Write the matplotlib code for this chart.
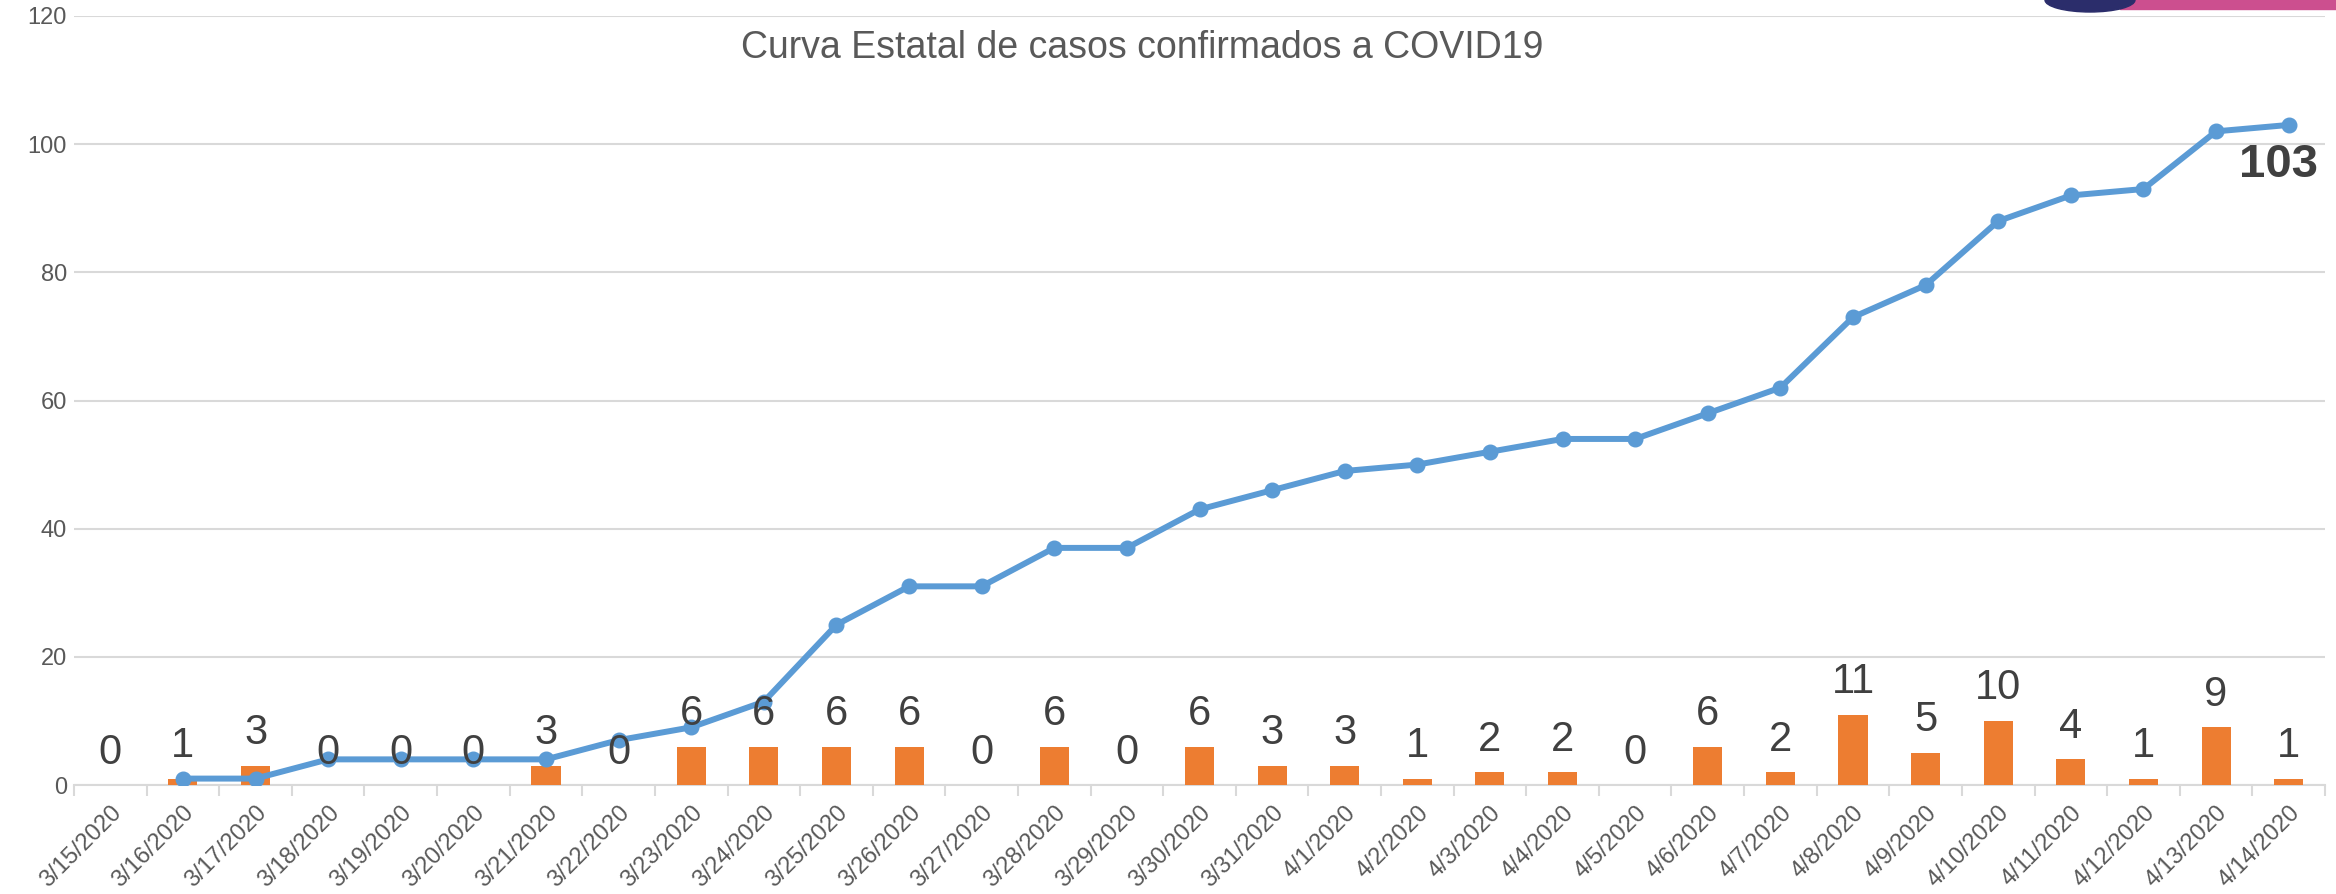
import matplotlib
matplotlib.use("Agg")
import matplotlib.pyplot as plt
from matplotlib.patches import Ellipse, Rectangle

# data
fechas = ["3/15/2020", "3/16/2020", "3/17/2020", "3/18/2020", "3/19/2020", "3/20/2020",
          "3/21/2020", "3/22/2020", "3/23/2020", "3/24/2020", "3/25/2020", "3/26/2020",
          "3/27/2020", "3/28/2020", "3/29/2020", "3/30/2020", "3/31/2020", "4/1/2020",
          "4/2/2020", "4/3/2020", "4/4/2020", "4/5/2020", "4/6/2020", "4/7/2020",
          "4/8/2020", "4/9/2020", "4/10/2020", "4/11/2020", "4/12/2020", "4/13/2020",
          "4/14/2020"]
casos_diarios = [0, 1, 3, 0, 0, 0, 3, 0, 6, 6, 6, 6, 0, 6, 0, 6, 3, 3, 1, 2, 2, 0, 6, 2,
                 11, 5, 10, 4, 1, 9, 1]
# acumulado, empieza el 3/16
acumulado = [1, 1, 4, 4, 4, 4, 7, 9, 13, 25, 31, 31, 37, 37, 43, 46, 49, 50, 52, 54, 54,
             58, 62, 73, 78, 88, 92, 93, 102, 103]
y_ticks = [0, 20, 40, 60, 80, 100, 120]

naranja = "#ED7D31"
azul = "#5B9BD5"
gris_txt = "#595959"
gris_grid = "#D9D9D9"

plt.rcParams['font.family'] = ['Liberation Sans', 'DejaVu Sans']

fig = plt.figure(figsize=(23.36, 8.94), dpi=100)
ax = fig.add_axes([74 / 2336, 109 / 894, (2325 - 74) / 2336, (785 - 16) / 894])

x = list(range(len(fechas)))
ax.bar(x, casos_diarios, width=0.4, color=naranja, zorder=2)
x_linea = x[1:]
ax.plot(x_linea, acumulado, color=azul, lw=4.3, marker='o', ms=10.5, zorder=3)

for i, v in enumerate(casos_diarios):
    ax.annotate(str(v), (i, v), xytext=(0, 9), textcoords='offset points',
                ha='center', va='bottom', fontsize=30, color="#404040", zorder=4)

ax.annotate(str(acumulado[-1]), (x_linea[-1], acumulado[-1]), xytext=(-7, -13),
            textcoords='offset points', ha='center', va='top', fontsize=34,
            fontweight='bold', color="#404040", zorder=4)

ax.set_xlim(-0.5, len(fechas) - 0.5)
ax.set_ylim(0, 120)
ax.set_yticks(y_ticks)
ax.set_yticklabels([str(t) for t in y_ticks], fontsize=17, color=gris_txt)
ax.set_xticks(x)
ax.set_xticklabels(fechas, rotation=45, ha='right', rotation_mode='anchor',
                   fontsize=17, color=gris_txt)
ax.tick_params(axis='x', which='major', length=0, pad=12)
ax.set_xticks([i - 0.5 for i in range(len(fechas) + 1)], minor=True)
ax.tick_params(axis='x', which='minor', length=8, color=gris_grid, width=1.5)
ax.tick_params(axis='y', length=0, pad=5)

ax.grid(axis='y', color=gris_grid, lw=1.5, zorder=0)
ax.set_axisbelow(True)
for s in ['top', 'right', 'left']:
    ax.spines[s].set_visible(False)
ax.spines['bottom'].set_color(gris_grid)
ax.spines['bottom'].set_linewidth(1.5)
ax.spines['bottom'].set_zorder(1)

fig.text(0.489, 1 - 48 / 894, "Curva Estatal de casos confirmados a COVID19",
         ha='center', va='center', fontsize=27, color=gris_txt)

# logo recortado arriba a la derecha
fig.patches.append(Rectangle((2120 / 2336, 1 - 9 / 894), 216 / 2336, 9 / 894,
                             transform=fig.transFigure, color="#CC4F8F", zorder=0))
fig.patches.append(Ellipse((2090 / 2336, 1 - 0 / 894), 90 / 2336, 24 / 894,
                           transform=fig.transFigure, color="#2B2D6B", zorder=1))

fig.savefig("out.png", dpi=100)
